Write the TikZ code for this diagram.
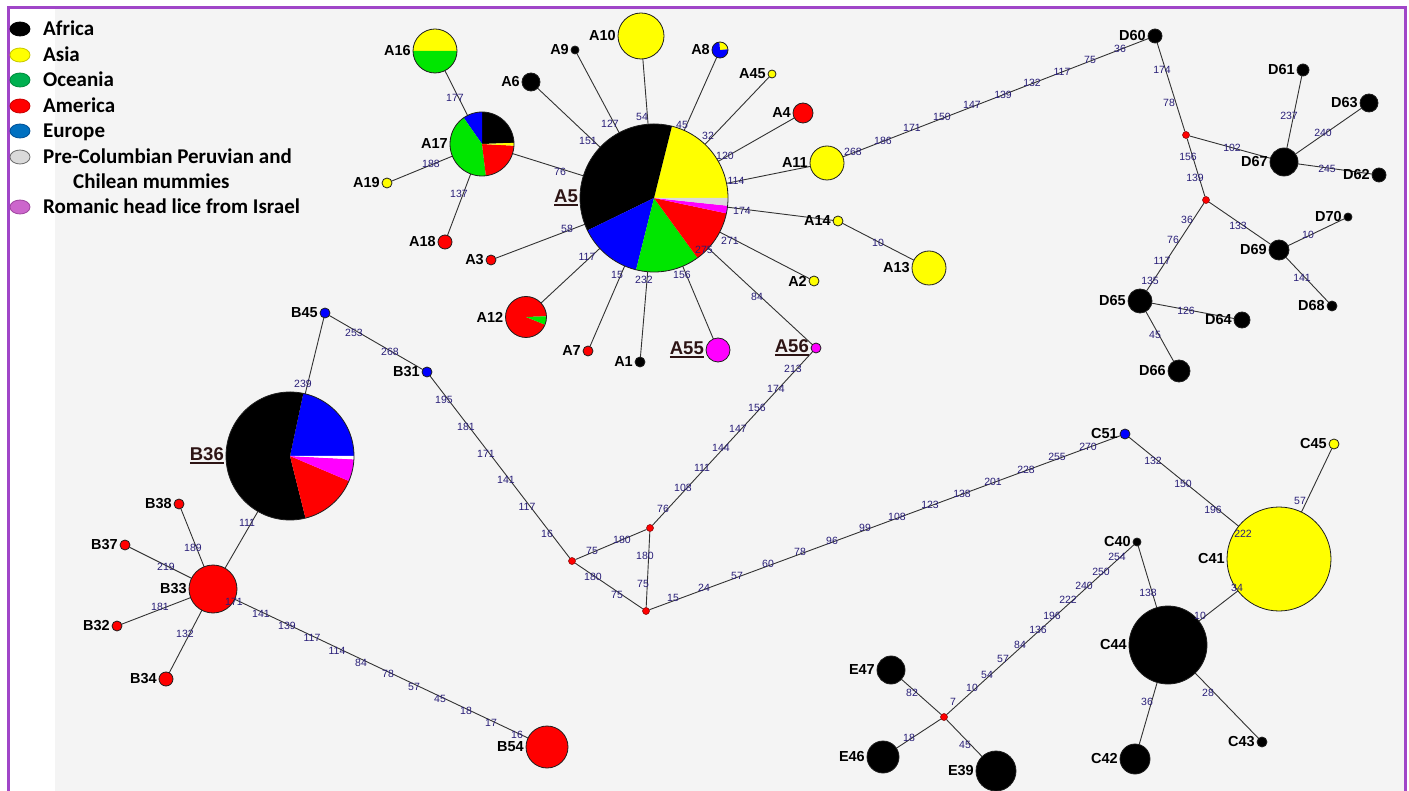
\documentclass[tikz,border=0pt]{standalone}
\usepackage{fontspec}
\setmainfont{Liberation Sans}
\newfontfamily\legfont{Carlito}
\pgfdeclarelayer{bg}\pgfdeclarelayer{edges}\pgfdeclarelayer{pies}
\pgfsetlayers{bg,edges,pies,main}
\definecolor{afr}{RGB}{0,0,0}
\definecolor{asi}{RGB}{255,255,0}
\definecolor{oce}{RGB}{0,230,0}
\definecolor{ame}{RGB}{255,0,0}
\definecolor{eur}{RGB}{0,0,255}
\definecolor{pre}{RGB}{218,218,218}
\definecolor{rom}{RGB}{255,0,255}
\definecolor{lgreen}{RGB}{0,176,80}
\definecolor{lblue}{RGB}{0,112,192}
\definecolor{lpink}{RGB}{204,102,204}
\definecolor{oafr}{RGB}{0,0,0}
\definecolor{oasi}{RGB}{200,200,0}
\definecolor{ogreen}{RGB}{0,140,60}
\definecolor{oame}{RGB}{200,0,0}
\definecolor{oblue}{RGB}{0,80,150}
\definecolor{opre}{RGB}{110,110,110}
\definecolor{opink}{RGB}{160,70,160}
\definecolor{frame}{RGB}{160,70,200}
\definecolor{panel}{RGB}{244,244,244}
\definecolor{edgecol}{RGB}{40,30,120}
\definecolor{linecol}{RGB}{50,50,50}
\definecolor{bigred}{RGB}{45,20,20}
\definecolor{hapline}{RGB}{30,30,30}
\definecolor{jnline}{RGB}{120,0,0}
\newcommand\labfont{\fontsize{14.5}{14.5}\selectfont\bfseries}
\newcommand\biglabfont{\fontsize{18.5}{18.5}\selectfont\bfseries}
\newcommand\edgefont{\fontsize{10.5}{10.5}\selectfont}
\newcommand\ulbl[1]{\setbox0=\hbox{#1}\rlap{\rule[-3.2pt]{\wd0}{1.8pt}}\box0}
\newcommand\pieslice[5]{\fill[#5] (#1.center) -- ++(#3:#2) arc[start angle=#3, end angle=#4, radius=#2] -- cycle;}
\tikzset{
  hap/.style={circle, draw=hapline, line width=0.8pt, inner sep=0pt, outer sep=0pt},
  jn/.style={circle, fill=red, draw=jnline, line width=0.5pt, inner sep=0pt, minimum size=7pt},
  lbl/.style={font=\labfont, text=black, inner sep=0pt},
  biglbl/.style={font=\biglabfont, text=bigred, inner sep=0pt},
  el/.style={font=\edgefont, text=edgecol, inner sep=0pt},
  conn/.style={draw=linecol, line width=0.9pt},
  legtxt/.style={font=\legfont\fontsize{21}{21}\selectfont\bfseries, anchor=base west, inner sep=0pt},
  label distance=2pt
}
\begin{document}
\begin{tikzpicture}[x=1pt,y=-1pt]
\useasboundingbox (0,0) rectangle (1409,791);
\begin{pgfonlayer}{bg}
\fill[white] (0,0) rectangle (1409,791);
\fill[panel] (55,9) rectangle (1404,791);
\draw[frame, line width=3pt] (8,791) -- (8,8) -- (1405,8) -- (1405,791);
\end{pgfonlayer}

% legend
\foreach \yy/\c/\d in {29/afr/oafr, 55/asi/oasi, 80/lgreen/ogreen, 106/ame/oame, 131/lblue/oblue, 157/pre/opre, 207/lpink/opink}
  \filldraw[fill=\c, draw=\d, line width=0.8pt] (20,\yy) ellipse[x radius=10, y radius=7];
\foreach \yy/\t [count=\i] in {29/Africa, 55/Asia, 80/Oceania, 106/America, 131/Europe, 157/Pre-Columbian Peruvian and, 207/Romanic head lice from Israel}
  \node[legtxt] (lt\i) at (43,\yy+6.5) {\t};
\node[legtxt] (lt8) at (73,188.5) {Chilean mummies};

% A haplogroup
\node[hap, minimum size=148pt, label={[biglbl]left:\ulbl{A5}}] (A5) at (654,198) {};
\node[hap, minimum size=64pt, label={[lbl]left:A17}] (A17) at (482,144) {};
\node[hap, minimum size=44pt, label={[lbl]left:A16}] (A16) at (435,51) {};
\node[hap, fill=asi, minimum size=10pt, label={[lbl]left:A19}] (A19) at (387,183) {};
\node[hap, fill=ame, minimum size=14pt, label={[lbl]left:A18}] (A18) at (445,242) {};
\node[hap, fill=afr, minimum size=18pt, label={[lbl]left:A6}] (A6) at (531,82) {};
\node[hap, fill=afr, minimum size=8pt, label={[lbl]left:A9}] (A9) at (575,50) {};
\node[hap, fill=asi, minimum size=46pt, label={[lbl]left:A10}] (A10) at (641,36) {};
\node[hap, minimum size=16pt, label={[lbl]left:A8}] (A8) at (720,50) {};
\node[hap, fill=asi, minimum size=8pt, label={[lbl]left:A45}] (A45) at (772,74) {};
\node[hap, fill=ame, minimum size=20pt, label={[lbl]left:A4}] (A4) at (803,113) {};
\node[hap, fill=asi, minimum size=34pt, label={[lbl]left:A11}] (A11) at (827,163) {};
\node[hap, fill=asi, minimum size=10pt, label={[lbl]left:A14}] (A14) at (838,221) {};
\node[hap, fill=asi, minimum size=34pt, label={[lbl]left:A13}] (A13) at (929,268) {};
\node[hap, fill=asi, minimum size=10pt, label={[lbl]left:A2}] (A2) at (814,281) {};
\node[hap, fill=rom, minimum size=10pt, label={[biglbl]left:\ulbl{A56}}] (A56) at (816,348) {};
\node[hap, fill=rom, minimum size=24pt, label={[biglbl]left:\ulbl{A55}}] (A55) at (718,350) {};
\node[hap, fill=afr, minimum size=10pt, label={[lbl]left:A1}] (A1) at (640,362) {};
\node[hap, fill=ame, minimum size=10pt, label={[lbl]left:A7}] (A7) at (588,351) {};
\node[hap, minimum size=41pt, label={[lbl]left:A12}] (A12) at (526,317) {};
\node[hap, fill=ame, minimum size=10pt, label={[lbl]left:A3}] (A3) at (491,260) {};

% D haplogroup
\node[hap, fill=afr, minimum size=14pt, label={[lbl]left:D60}] (D60) at (1155,36) {};
\node[jn] (J1) at (1186,135) {};
\node[jn] (J2) at (1206,200) {};
\node[hap, fill=afr, minimum size=28pt, label={[lbl]left:D67}] (D67) at (1284,162) {};
\node[hap, fill=afr, minimum size=12pt, label={[lbl]left:D61}] (D61) at (1303,70) {};
\node[hap, fill=afr, minimum size=18pt, label={[lbl]left:D63}] (D63) at (1369,103) {};
\node[hap, fill=afr, minimum size=14pt, label={[lbl]left:D62}] (D62) at (1379,175) {};
\node[hap, fill=afr, minimum size=20pt, label={[lbl]left:D69}] (D69) at (1279,250) {};
\node[hap, fill=afr, minimum size=8pt, label={[lbl]left:D70}] (D70) at (1348,217) {};
\node[hap, fill=afr, minimum size=10pt, label={[lbl]left:D68}] (D68) at (1332,306) {};
\node[hap, fill=afr, minimum size=24pt, label={[lbl]left:D65}] (D65) at (1140,301) {};
\node[hap, fill=afr, minimum size=16pt, label={[lbl]left:D64}] (D64) at (1242,320) {};
\node[hap, fill=afr, minimum size=22pt, label={[lbl]left:D66}] (D66) at (1179,371) {};

% B haplogroup
\node[hap, fill=eur, minimum size=10pt, label={[lbl]left:B45}] (B45) at (325,313) {};
\node[hap, fill=eur, minimum size=10pt, label={[lbl]left:B31}] (B31) at (427,372) {};
\node[hap, minimum size=128pt, label={[biglbl]left:\ulbl{B36}}] (B36) at (290,456) {};
\node[hap, fill=ame, minimum size=48pt, label={[lbl]left:B33}] (B33) at (213,589) {};
\node[hap, fill=ame, minimum size=10pt, label={[lbl]left:B38}] (B38) at (179,504) {};
\node[hap, fill=ame, minimum size=10pt, label={[lbl]left:B37}] (B37) at (125,545) {};
\node[hap, fill=ame, minimum size=10pt, label={[lbl]left:B32}] (B32) at (117,626) {};
\node[hap, fill=ame, minimum size=14pt, label={[lbl]left:B34}] (B34) at (166,679) {};
\node[hap, fill=ame, minimum size=42pt, label={[lbl]left:B54}] (B54) at (547,747) {};
\node[jn] (K1) at (572,561) {};
\node[jn] (K2) at (650,528) {};
\node[jn] (K3) at (646,611) {};

% C and E haplogroups
\node[hap, fill=eur, minimum size=10pt, label={[lbl]left:C51}] (C51) at (1125,434) {};
\node[hap, fill=asi, minimum size=104pt, label={[lbl]left:C41}] (C41) at (1279,559) {};
\node[hap, fill=asi, minimum size=10pt, label={[lbl]left:C45}] (C45) at (1334,444) {};
\node[hap, fill=afr, minimum size=78pt, label={[lbl]left:C44}] (C44) at (1168,645) {};
\node[hap, fill=afr, minimum size=8pt, label={[lbl]left:C40}] (C40) at (1137,542) {};
\node[hap, fill=afr, minimum size=30pt, label={[lbl]left:C42}] (C42) at (1135,759) {};
\node[hap, fill=afr, minimum size=10pt, label={[lbl]left:C43}] (C43) at (1262,742) {};
\node[jn] (L1) at (944,717) {};
\node[hap, fill=afr, minimum size=28pt, label={[lbl]left:E47}] (E47) at (891,670) {};
\node[hap, fill=afr, minimum size=32pt, label={[lbl]left:E46}] (E46) at (883,757) {};
\node[hap, fill=afr, minimum size=40pt, label={[lbl]left:E39}] (E39) at (996,771) {};

% pie slices
\begin{pgfonlayer}{pies}
\pieslice{A5}{74pt}{0}{76}{asi}
\pieslice{A5}{74pt}{76}{206}{afr}
\pieslice{A5}{74pt}{206}{256}{eur}
\pieslice{A5}{74pt}{256}{306}{oce}
\pieslice{A5}{74pt}{306}{348}{ame}
\pieslice{A5}{74pt}{348}{354}{rom}
\pieslice{A5}{74pt}{354}{360}{pre}
\pieslice{A17}{32pt}{2}{90}{afr}
\pieslice{A17}{32pt}{90}{125}{eur}
\pieslice{A17}{32pt}{125}{277}{oce}
\pieslice{A17}{32pt}{277}{357}{ame}
\pieslice{A17}{32pt}{357}{362}{asi}
\pieslice{A16}{22pt}{0}{180}{asi}
\pieslice{A16}{22pt}{180}{360}{oce}
\pieslice{A8}{8pt}{5}{95}{asi}
\pieslice{A8}{8pt}{95}{365}{eur}
\pieslice{A12}{20.5pt}{2}{338}{ame}
\pieslice{A12}{20.5pt}{338}{362}{oce}
\pieslice{B36}{64pt}{0}{78}{eur}
\pieslice{B36}{64pt}{78}{284}{afr}
\pieslice{B36}{64pt}{284}{337}{ame}
\pieslice{B36}{64pt}{337}{357}{rom}
\pieslice{B36}{64pt}{357}{360}{white}
\end{pgfonlayer}

% connectors
\begin{pgfonlayer}{edges}
\foreach \n in {A17,A6,A9,A10,A8,A45,A4,A11,A14,A2,A56,A55,A1,A7,A12,A3}
  \draw[conn] (A5) -- (\n);
\foreach \n in {A16,A19,A18} \draw[conn] (A17) -- (\n);
\draw[conn] (A14) -- (A13);
\draw[conn] (A11) -- (D60);
\draw[conn] (D60) -- (J1);
\draw[conn] (J1) -- (D67);
\draw[conn] (J1) -- (J2);
\foreach \n in {D61,D63,D62} \draw[conn] (D67) -- (\n);
\draw[conn] (J2) -- (D69);
\draw[conn] (D69) -- (D70);
\draw[conn] (D69) -- (D68);
\draw[conn] (J2) -- (D65);
\draw[conn] (D65) -- (D64);
\draw[conn] (D65) -- (D66);
\draw[conn] (B45) -- (B31);
\draw[conn] (B45) -- (B36);
\draw[conn] (B31) -- (K1);
\draw[conn] (K1) -- (K2);
\draw[conn] (K1) -- (K3);
\draw[conn] (K2) -- (K3);
\draw[conn] (K2) -- (A56);
\draw[conn] (K3) -- (C51);
\draw[conn] (B36) -- (B33);
\foreach \n in {B38,B37,B32,B34,B54} \draw[conn] (B33) -- (\n);
\draw[conn] (C51) -- (C41);
\draw[conn] (C41) -- (C45);
\draw[conn] (C41) -- (C44);
\foreach \n in {C40,C42,C43} \draw[conn] (C44) -- (\n);
\draw[conn] (C40) -- (L1);
\foreach \n in {E47,E46,E39} \draw[conn] (L1) -- (\n);
\end{pgfonlayer}

% edge labels (mutation positions)
\foreach \x/\y/\t [count=\i] in {560/172/76, 588/141/151, 610/124/127, 642/117/54, 682/125/45, 708/136/32, 725/156/120, 736/181/114, 742/211/174, 730/241/271, 704/250/275, 757/297/84, 682/275/156, 644/280/232, 617/275/15, 587/257/117, 567/229/58, 878/243/10, 455/98/177, 431/164/188, 459/194/137}
  \node[el] (ea\i) at (\x,\y) {\t};
\foreach \x/\y/\t [count=\i] in {853/152/268, 883/141/186, 912/128/171, 942/117/150, 972/105/147, 1003/95/139, 1032/83/132, 1062/72/117, 1090/60/75, 1120/49/36}
  \node[el] (eb\i) at (\x,\y) {\t};
\foreach \x/\y/\t [count=\i] in {1162/70/174, 1169/103/78, 1232/148/102, 1188/157/156, 1195/178/139, 1289/116/237, 1323/133/240, 1327/169/245, 1238/226/133, 1308/235/10, 1302/278/141, 1187/220/36, 1173/240/76, 1162/261/117, 1150/281/135, 1186/311/126, 1155/335/45}
  \node[el] (ed\i) at (\x,\y) {\t};
\foreach \x/\y/\t [count=\i] in {354/333/253, 390/352/268, 303/384/239, 444/400/195, 466/427/181, 486/454/171, 506/480/141, 527/507/117, 547/534/16, 592/551/75, 622/540/180, 593/577/180, 617/595/75, 645/556/180, 643/584/75, 663/509/76, 683/488/108, 702/468/111, 721/448/144, 738/429/147, 757/408/156, 776/389/174, 793/369/213}
  \node[el] (ek\i) at (\x,\y) {\t};
\foreach \x/\y/\t [count=\i] in {247/523/111, 193/548/189, 166/567/219, 160/607/181, 185/634/132, 234/602/171, 261/614/141, 287/626/139, 312/638/117, 337/651/114, 361/663/84, 388/674/78, 414/687/57, 440/699/45, 466/711/18, 491/723/17, 517/735/16}
  \node[el] (eg\i) at (\x,\y) {\t};
\foreach \x/\y/\t [count=\i] in {673/598/15, 704/588/24, 737/576/57, 768/564/60, 800/552/78, 832/541/96, 865/528/99, 897/517/108, 930/505/123, 962/494/138, 993/482/201, 1026/470/228, 1057/457/255, 1088/447/270}
  \node[el] (eh\i) at (\x,\y) {\t};
\foreach \x/\y/\t [count=\i] in {1153/461/132, 1183/484/150, 1213/510/196, 1243/534/222, 1300/501/57, 1237/588/34, 1200/616/10, 1148/593/138, 1147/702/36, 1208/693/28}
  \node[el] (ec\i) at (\x,\y) {\t};
\foreach \x/\y/\t [count=\i] in {1117/557/254, 1101/572/250, 1084/586/240, 1068/600/222, 1052/616/196, 1038/630/136, 1020/645/84, 1003/659/57, 987/675/54, 972/688/10, 953/702/7, 912/693/82, 909/738/18, 965/745/45}
  \node[el] (ee\i) at (\x,\y) {\t};
\end{tikzpicture}
\end{document}
